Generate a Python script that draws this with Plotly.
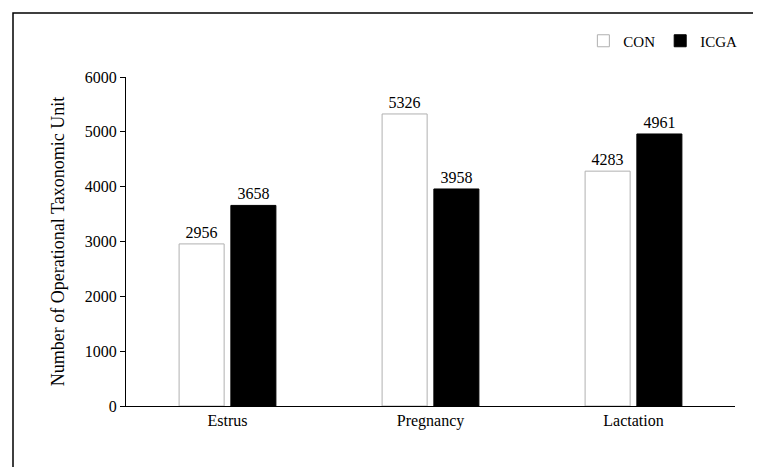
import plotly.graph_objects as go

categories = ["Estrus", "Pregnancy", "Lactation"]
con_values = [2956, 5326, 4283]
icga_values = [3658, 3958, 4961]
y_ticks = [0, 1000, 2000, 3000, 4000, 5000, 6000]

font = dict(family="Liberation Serif, Times New Roman, serif", color="black", size=16)

fig = go.Figure()
fig.add_bar(x=categories, y=con_values, name="CON", text=con_values, textposition="outside",
            marker=dict(color="white", line=dict(color="#b0b0b0", width=1)), cliponaxis=False)
fig.add_bar(x=categories, y=icga_values, name="ICGA", text=icga_values, textposition="outside",
            marker=dict(color="black", line=dict(color="black", width=1)), cliponaxis=False)

L, R, T, B = 118, 34, 69, 69
W, H = 761, 467
pw, ph = W - L - R, H - T - B
fig.update_layout(
    width=W, height=H, margin=dict(l=L, r=R, t=T, b=B),
    paper_bgcolor="white", plot_bgcolor="white", font=font,
    barmode="group", bargap=0.49, bargroupgap=0.13,
    showlegend=True,
    legend=dict(orientation="h", xref="container", yref="container",
                x=0.965, xanchor="right", y=1 - 33 / H, yanchor="middle",
                font=dict(size=15), bgcolor="rgba(0,0,0,0)"),
    xaxis=dict(showline=True, linecolor="black", ticks="", showgrid=False,
               tickfont=dict(size=16), automargin=False),
    yaxis=dict(range=[0, 6000], tickvals=y_ticks, showline=True, linecolor="black",
               ticks="outside", ticklen=5, tickcolor="black", showgrid=False,
               title=dict(text="Number of Operational Taxonomic Unit", font=dict(size=18)),
               tickfont=dict(size=16), automargin=False),
    shapes=[dict(type="rect", xref="paper", yref="paper",
                 x0=(5 - L) / pw, x1=(755 - L) / pw,
                 y0=(H - B - 460) / ph, y1=(H - B - 5) / ph,
                 line=dict(color="black", width=1.5))],
)
fig.update_traces(textfont=dict(size=16, color="black"))
fig.write_html("out.html")
